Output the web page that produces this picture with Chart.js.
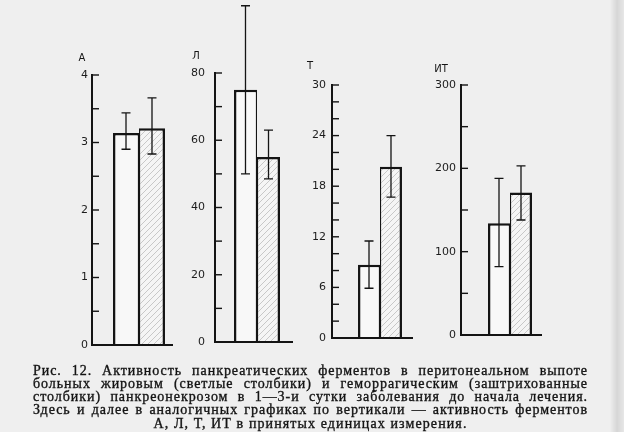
<!DOCTYPE html>
<html lang="ru">
<head>
<meta charset="utf-8">
<script src="https://cdn.jsdelivr.net/npm/chart.js@4.4.1/dist/chart.umd.min.js"></script>
<style>
  html, body { margin: 0; padding: 0; }
  body {
    width: 624px; height: 432px; overflow: hidden; position: relative;
    background: #efefef;
  }
  canvas.panel { position: absolute; left: 0; top: 0; }
  .edge {
    position: absolute; top: 0; right: 0; width: 14px; height: 432px;
    background: linear-gradient(to right, rgba(0,0,0,0), rgba(0,0,0,0.10) 50%, rgba(0,0,0,0.03));
  }
  .cap {
    position: absolute; left: 33px; width: 555px;
    font-family: "Liberation Serif", "DejaVu Serif", serif;
    font-size: 14px; line-height: 13.3px; color: #141414;
    letter-spacing: 0.95px;
    -webkit-text-stroke: 0.35px #141414;
  }
  .cap div { text-align: justify; text-align-last: justify; white-space: nowrap; }
  .cap div.last { text-align: center; text-align-last: center; letter-spacing: 1.1px; }
</style>
</head>
<body>
<canvas class="panel" id="pA" width="624" height="432"></canvas>
<canvas class="panel" id="pL" width="624" height="432"></canvas>
<canvas class="panel" id="pT" width="624" height="432"></canvas>
<canvas class="panel" id="pIT" width="624" height="432"></canvas>
<div class="edge"></div>
<div class="cap" style="top:363.6px">
  <div>Рис. 12. Активность панкреатических ферментов в перитонеальном выпоте</div>
  <div>больных жировым (светлые столбики) и геморрагическим (заштрихованные</div>
  <div>столбики) панкреонекрозом в 1—3-и сутки заболевания до начала лечения.</div>
  <div>Здесь и далее в аналогичных графиках по вертикали — активность ферментов</div>
  <div class="last">А, Л, Т, ИТ в принятых единицах измерения.</div>
</div>
<script>
// ферменты (панели) и группы больных
const enzymes = ['А', 'Л', 'Т', 'ИТ'];
const groups = ['Жировой панкреонекроз', 'Геморрагический панкреонекроз'];

// светлые столбики: среднее и границы разброса
const fattyMean = [3.14, 75, 8.7, 134];
const fattyLow  = [2.90, 50, 5.9, 82];
const fattyHigh = [3.44, 100, 11.5, 188];

// заштрихованные столбики
const hemoMean = [3.21, 55, 20.3, 171];
const hemoLow  = [2.83, 48.5, 16.7, 138];
const hemoHigh = [3.66, 63, 24, 203];

// шкалы по вертикали
const axisMax   = [4, 80, 30, 300];
const majorStep = [1, 20, 6, 100];
const minorStep = [0.5, 10, 2, 50];

// где стоит каждая панель на странице
const layout = [
  { id: 'pA',  axisX: 92,  topY: 75, zeroY: 345, right: 186, baseEnd: 173, cat: 0.553, pad: 4,  tx: 82,  ty: 58 },
  { id: 'pL',  axisX: 215, topY: 73, zeroY: 342, right: 299, baseEnd: 293, cat: 0.548, pad: 10, tx: 196, ty: 56 },
  { id: 'pT',  axisX: 332, topY: 85, zeroY: 338, right: 428, baseEnd: 413, cat: 0.458, pad: 6,  tx: 310, ty: 66 },
  { id: 'pIT', axisX: 461, topY: 85, zeroY: 335, right: 559, baseEnd: 542, cat: 0.449, pad: 5,  tx: 441, ty: 69 }
];

const INK = '#141414';
const AXIS_W = 40;

function hatchPattern() {
  const s = 6;
  const c = document.createElement('canvas');
  c.width = s; c.height = s;
  const g = c.getContext('2d');
  g.fillStyle = '#f5f5f5';
  g.fillRect(0, 0, s, s);
  g.strokeStyle = '#bcbcbc';
  g.lineWidth = 0.8;
  g.beginPath();
  g.moveTo(0, s); g.lineTo(s, 0);
  g.moveTo(-1, 1); g.lineTo(1, -1);
  g.moveTo(s - 1, s + 1); g.lineTo(s + 1, s - 1);
  g.stroke();
  return g.createPattern(c, 'repeat');
}

const extrasPlugin = {
  id: 'extras',
  afterDatasetsDraw(chart) {
    const i = chart.options.plugins.extras.index;
    const L = layout[i];
    const ctx = chart.ctx;
    const y = chart.scales.y;
    const left = chart.chartArea.left;
    ctx.save();
    ctx.strokeStyle = INK;
    ctx.lineCap = 'butt';

    // штрихи шкалы внутрь графика
    ctx.lineWidth = 1.4;
    const n = Math.round(axisMax[i] / minorStep[i]);
    for (let k = 0; k <= n; k++) {
      const py = y.getPixelForValue(k * minorStep[i]);
      ctx.beginPath();
      ctx.moveTo(left, py);
      ctx.lineTo(left + 7, py);
      ctx.stroke();
    }

    // основание
    ctx.lineWidth = 2;
    const y0 = y.getPixelForValue(0);
    ctx.beginPath();
    ctx.moveTo(left - 1, y0);
    ctx.lineTo(L.baseEnd, y0);
    ctx.stroke();

    // разброс
    const lows = [fattyLow[i], hemoLow[i]];
    const highs = [fattyHigh[i], hemoHigh[i]];
    ctx.lineWidth = 1.3;
    for (let d = 0; d < 2; d++) {
      const bar = chart.getDatasetMeta(d).data[0];
      const yl = y.getPixelForValue(lows[d]);
      const yh = y.getPixelForValue(highs[d]);
      ctx.beginPath();
      ctx.moveTo(bar.x, yl); ctx.lineTo(bar.x, yh);
      ctx.moveTo(bar.x - 4.5, yl); ctx.lineTo(bar.x + 4.5, yl);
      ctx.moveTo(bar.x - 4.5, yh); ctx.lineTo(bar.x + 4.5, yh);
      ctx.stroke();
    }

    // буквенное обозначение фермента
    ctx.fillStyle = INK;
    ctx.font = '10px "DejaVu Sans", sans-serif';
    ctx.textAlign = 'center';
    ctx.textBaseline = 'middle';
    ctx.fillText(enzymes[i], L.tx, L.ty);
    ctx.restore();
  }
};

const hatch = hatchPattern();

layout.forEach(function (L, i) {
  new Chart(document.getElementById(L.id), {
    type: 'bar',
    data: {
      labels: [enzymes[i]],
      datasets: [
        {
          label: groups[0],
          data: [fattyMean[i]],
          backgroundColor: '#f8f8f8',
          borderColor: INK,
          borderWidth: { top: 2.5, left: 2.5, right: 1.3, bottom: 0 }
        },
        {
          label: groups[1],
          data: [hemoMean[i]],
          backgroundColor: hatch,
          borderColor: INK,
          borderWidth: { top: 2.5, left: 1.3, right: 2.5, bottom: 0 }
        }
      ]
    },
    options: {
      responsive: false,
      animation: false,
      devicePixelRatio: 1,
      layout: {
        padding: { left: L.axisX - AXIS_W, right: 624 - L.right, top: L.topY, bottom: 432 - L.zeroY }
      },
      datasets: { bar: { barPercentage: 1, categoryPercentage: L.cat } },
      scales: {
        x: { display: false },
        y: {
          min: 0,
          max: axisMax[i],
          afterFit: function (s) { s.width = AXIS_W; },
          grid: { display: false, drawTicks: false },
          border: { display: true, width: 2, color: INK },
          ticks: {
            stepSize: majorStep[i],
            padding: L.pad,
            color: '#1c1c1c',
            font: { family: '"DejaVu Sans", sans-serif', size: 11 }
          }
        }
      },
      plugins: {
        legend: { display: false },
        tooltip: { enabled: false },
        extras: { index: i }
      }
    },
    plugins: [extrasPlugin]
  });
});
</script>
</body>
</html>
